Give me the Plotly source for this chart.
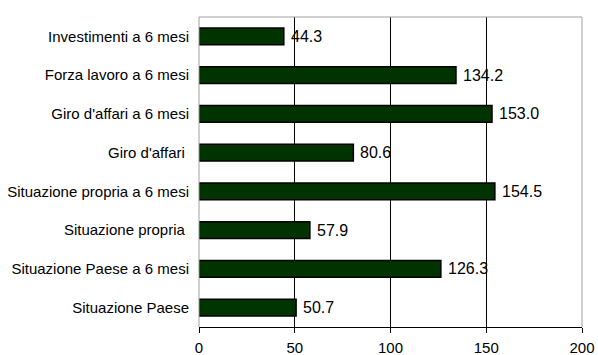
import plotly.graph_objects as go

# Indicators, listed bottom to top as they appear on the axis
categories = [
    "Situazione Paese",
    "Situazione Paese a 6 mesi",
    "Situazione propria ",
    "Situazione propria a 6 mesi",
    "Giro d'affari ",
    "Giro d'affari a 6 mesi",
    "Forza lavoro a 6 mesi",
    "Investimenti a 6 mesi",
]
values = [50.7, 126.3, 57.9, 154.5, 80.6, 153.0, 134.2, 44.3]
x_ticks = [0, 50, 100, 150, 200]

FONT = "Liberation Sans, Arial, sans-serif"

fig = go.Figure()
fig.add_trace(go.Bar(
    x=values,
    y=categories,
    orientation="h",
    width=0.43,
    marker=dict(color="#003300", line=dict(color="#000000", width=1.5)),
    hoverinfo="skip",
))

# value labels to the right of each bar
for v, c in zip(values, categories):
    fig.add_annotation(
        x=v, y=c, text=f"{v:.1f}", showarrow=False,
        xanchor="left", yanchor="middle", xshift=5,
        font=dict(family=FONT, size=16, color="#000000"),
    )

fig.update_layout(
    width=598, height=355,
    margin=dict(l=199, r=16, t=17, b=28, autoexpand=False),
    paper_bgcolor="#ffffff",
    plot_bgcolor="#ffffff",
    showlegend=False,
    font=dict(family=FONT, color="#000000"),
    xaxis=dict(
        range=[0, 200],
        tickvals=x_ticks,
        ticktext=[str(t) for t in x_ticks],
        showgrid=True, gridcolor="#000000", gridwidth=1,
        zeroline=False,
        showline=True, linecolor="#000000", linewidth=1,
        ticks="outside", ticklen=5, tickcolor="#000000",
        tickfont=dict(family=FONT, size=15),
        ticklabelstandoff=2,
        automargin=False,
        fixedrange=True,
    ),
    yaxis=dict(
        type="category",
        categoryorder="array",
        categoryarray=categories,
        showgrid=False, zeroline=False,
        showline=False,
        ticks="",
        tickfont=dict(family=FONT, size=15),
        ticklabelstandoff=9,
        automargin=False,
        fixedrange=True,
    ),
    shapes=[
        # light frame around the plot area (top, left, right)
        dict(type="line", xref="paper", yref="paper", x0=0, x1=1, y0=1, y1=1,
             line=dict(color="#a0a0a0", width=1)),
        dict(type="line", xref="paper", yref="paper", x0=0, x1=0, y0=0, y1=1,
             line=dict(color="#a0a0a0", width=1)),
        dict(type="line", xref="paper", yref="paper", x0=1, x1=1, y0=0, y1=1,
             line=dict(color="#a0a0a0", width=1)),
    ],
)

fig.write_html("out.html")
